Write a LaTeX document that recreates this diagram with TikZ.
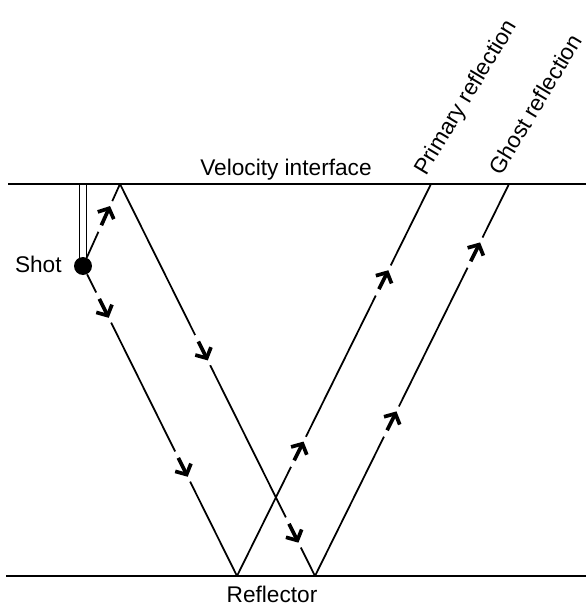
\documentclass[tikz,border=0pt]{standalone}
\usepackage{fontspec}
\setmainfont{Liberation Sans}
\usetikzlibrary{arrows.meta,decorations.markings}

\begin{document}
\begin{tikzpicture}[
  x=0.02cm, y=-0.02cm,
  font=\fontsize{12.9}{15}\selectfont,
  >={Straight Barb[length=4.5pt,width=10pt]},
  layer/.style={line width=1.1pt},
  ray/.style={line width=1pt},
  txt/.style={inner sep=0pt},
  wave/.style={postaction={decorate, decoration={markings, mark=at position #1 with {
      \fill[white] (-16pt,-3pt) rectangle (3pt,3pt);
      \draw[line width=2.1pt,->] (-12pt,0) -- (0,0);}}}}
]
\useasboundingbox (0,0) rectangle (588,605);

% interfaces
\coordinate (vl) at (8,184);
\coordinate (vr) at (586,184);
\coordinate (rl) at (6,576);
\coordinate (rr) at (586,576);
\draw[layer] (vl) -- (vr);
\draw[layer] (rl) -- (rr);
\node[txt, anchor=base] (vel) at (286,175) {Velocity interface};
\node[txt, anchor=base] (refl) at (272,602) {Reflector};

% shot and its pipe
\node[circle, fill, inner sep=0pt, minimum size=0.36cm] (shot) at (83,266) {};
\node[txt, anchor=base east] (shotlbl) at (62,272) {Shot};
\draw[line width=0.6pt] (79.5,184) -- (79.5,262);
\draw[line width=0.6pt] (86.5,184) -- (86.5,258);

% bounce points
\coordinate (b) at (120,184);
\coordinate (p) at (237,576);
\coordinate (g) at (315,576);
\coordinate (ptop) at (431,184);
\coordinate (gtop) at (509,184);

% ray paths
\draw[ray, wave=0.70] (shot) -- (b);
\draw[ray, wave=0.144, wave=0.671] (shot) -- (p);
\draw[ray, wave=0.45, wave=0.915] (b) -- (g);
\draw[ray, wave=0.343, wave=0.78] (p) -- (ptop);
\draw[ray, wave=0.42, wave=0.851] (g) -- (gtop);

\node[txt, anchor=base west, rotate=59] (prim) at (426,177) {Primary reflection};
\node[txt, anchor=base west, rotate=59] (ghost) at (501,177) {Ghost reflection};

\end{tikzpicture}
\end{document}
